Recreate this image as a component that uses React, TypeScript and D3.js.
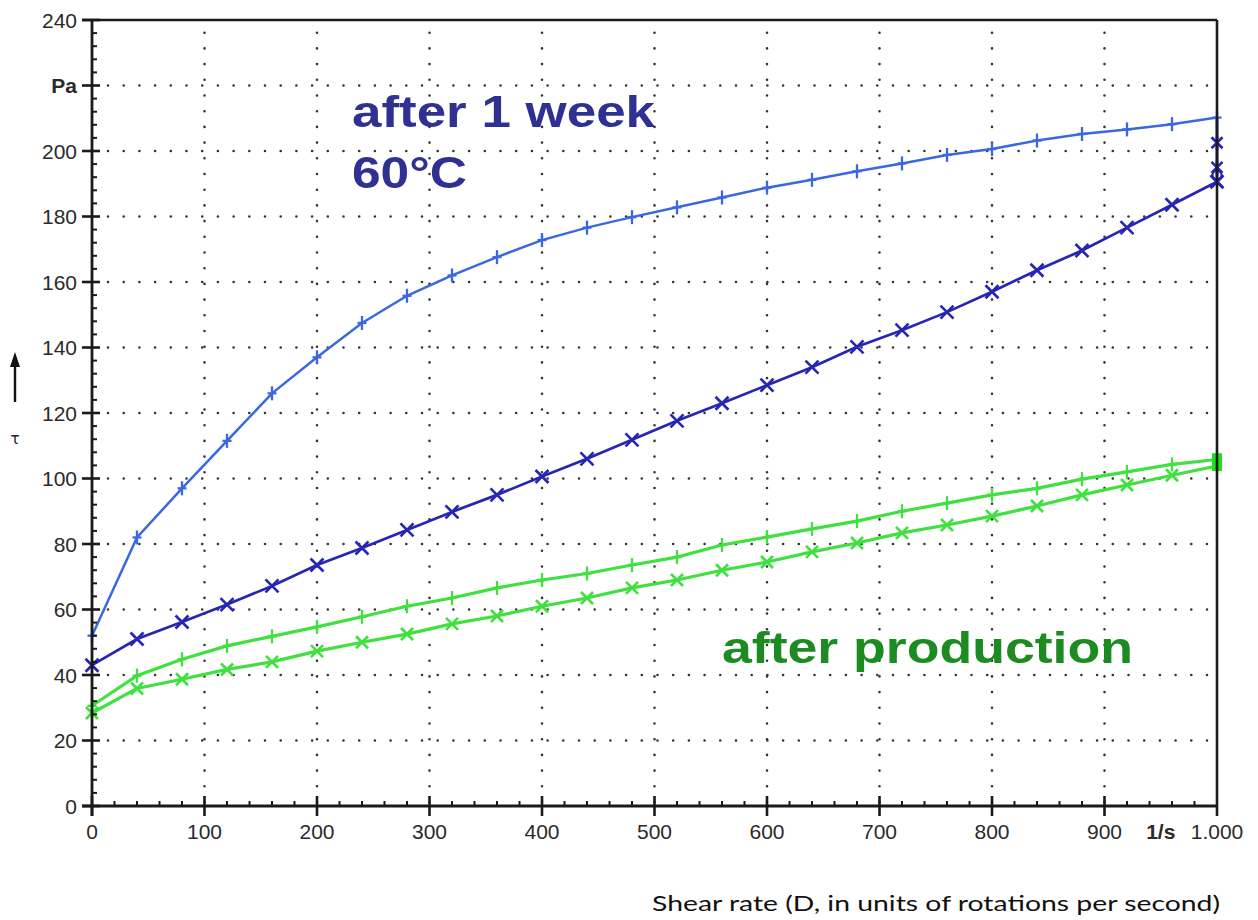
import React from "react";
import * as d3 from "d3";

// Shear rate steps (1/s) of the ramp measurements
const shearUp = [0, 40, 80, 120, 160, 200, 240, 280, 320, 360, 400, 440, 480, 520, 560, 600, 640, 680, 720, 760, 800, 840, 880, 920, 960, 1000];
const shearDown = [1000, 960, 920, 880, 840, 800, 760, 720, 680, 640, 600, 560, 520, 480, 440, 400, 360, 320, 280, 240, 200, 160, 120, 80, 40, 0];

// Shear stress τ (Pa) — after 1 week at 60°C
const weekUp = [52, 82, 97, 111.5, 126, 137, 147.5, 155.8, 162, 167.6, 172.8, 176.6, 179.8, 182.8, 185.8, 188.8, 191.2, 193.8, 196.2, 198.8, 200.6, 203.2, 205.2, 206.6, 208.2, 210.2];
const weekHold = [210.2, 202.5, 195, 192.6, 190.6];
const weekHoldMarks = ["none", "star", "star", "circle", "x"];
const weekDown = [190.6, 183.6, 176.6, 169.6, 163.6, 157, 150.8, 145.3, 140.2, 134, 128.5, 123, 117.6, 111.8, 106, 100.6, 95, 89.8, 84.3, 78.8, 73.6, 67.2, 61.5, 56.2, 51, 43];

// Shear stress τ (Pa) — after production
const prodUp = [30.6, 39.8, 44.8, 48.9, 51.8, 54.7, 57.8, 61, 63.5, 66.6, 69, 71, 73.6, 76, 79.7, 82.1, 84.6, 87, 90, 92.5, 95, 97, 99.8, 102, 104.3, 105.8];
const prodHold = [106.2, 105.4, 104.6, 103.8];
const prodDown = [103.8, 101, 98, 95, 91.6, 88.5, 85.8, 83.4, 80.3, 77.6, 74.5, 72, 69, 66.6, 63.5, 61, 58, 55.6, 52.5, 50, 47.3, 44, 41.7, 38.7, 35.9, 28.4];

const xTicks = [0, 100, 200, 300, 400, 500, 600, 700, 800, 900];
const xTickLabels = ["0", "100", "200", "300", "400", "500", "600", "700", "800", "900"];
const yTicks = [0, 20, 40, 60, 80, 100, 120, 140, 160, 180, 200, 220, 240];
const yTickLabels = ["0", "20", "40", "60", "80", "100", "120", "140", "160", "180", "200", "Pa", "240"];

const W = 1258;
const H = 920;
const left = 92;
const right = 1217;
const top = 20;
const bottom = 806;

const LIGHT_BLUE = "#3a68de";
const DARK_BLUE = "#2626b2";
const GREEN = "#3fe03f";
const AXIS = "#1a1a1a";
const LABEL = "#2a2a2a";
const FONT = "'Liberation Sans', Arial, sans-serif";

type Pt = [number, number];

function Plus({ x, y, color }: { x: number; y: number; color: string }) {
  return (
    <g stroke={color} strokeWidth={2.3}>
      <line x1={x} y1={y - 7} x2={x} y2={y + 7} />
      <line x1={x - 4.5} y1={y} x2={x + 4.5} y2={y} />
    </g>
  );
}

function Cross({ x, y, color, s = 6.5 }: { x: number; y: number; color: string; s?: number }) {
  return (
    <g stroke={color} strokeWidth={2.7}>
      <line x1={x - s} y1={y - s} x2={x + s} y2={y + s} />
      <line x1={x - s} y1={y + s} x2={x + s} y2={y - s} />
    </g>
  );
}

export default function App() {
  const x = d3.scaleLinear().domain([0, 1000]).range([left, right]);
  const y = d3.scaleLinear().domain([0, 240]).range([bottom, top]);
  const line = d3.line<Pt>().x((d) => x(d[0])).y((d) => y(d[1]));

  const wUp: Pt[] = shearUp.map((s, i) => [s, weekUp[i]]);
  const wHold: Pt[] = weekHold.map((v) => [1000, v]);
  const wDown: Pt[] = shearDown.map((s, i) => [s, weekDown[i]]);
  const pUp: Pt[] = shearUp.map((s, i) => [s, prodUp[i]]);
  const pHold: Pt[] = prodHold.map((v) => [1000, v]);
  const pDown: Pt[] = shearDown.map((s, i) => [s, prodDown[i]]);

  const yMinor = d3.range(0, 240, 4).filter((v) => v % 20 !== 0);
  const xMinor = d3.range(0, 1000, 20).filter((v) => v % 100 !== 0);
  const gridX = xTicks.filter((v) => v > 0);
  const gridY = yTicks.filter((v) => v > 0 && v < 240);

  return (
    <div style={{ position: "absolute", left: 0, top: 0 }}>
      <svg width={W} height={H} style={{ display: "block", background: "#fff" }}>
        {/* dotted grid */}
        <g stroke="#333" strokeWidth={2.6} strokeLinecap="round" strokeDasharray="0 15.7">
          {gridX.map((v) => (
            <line key={"gx" + v} x1={x(v)} y1={bottom - 4} x2={x(v)} y2={top + 4} />
          ))}
          {gridY.map((v) => (
            <line key={"gy" + v} x1={left + 16} y1={y(v)} x2={right - 4} y2={y(v)} />
          ))}
        </g>

        {/* annotation text */}
        <g fontFamily={FONT} fontWeight="bold" fontSize={45}>
          <text x={352} y={127} fill="#2e3192" textLength={303} lengthAdjust="spacingAndGlyphs">after 1 week</text>
          <text x={352} y={188} fill="#2e3192" textLength={115} lengthAdjust="spacingAndGlyphs">60°C</text>
          <text x={722} y={663} fill="#1c8c22" textLength={411} lengthAdjust="spacingAndGlyphs">after production</text>
        </g>

        {/* after production curves */}
        <g fill="none" stroke={GREEN} strokeWidth={3.2}>
          <path d={line(pUp) ?? ""} />
          <path d={line(pHold) ?? ""} />
          <path d={line(pDown) ?? ""} />
        </g>
        {pUp.map((d, i) => (
          <Plus key={"pu" + i} x={x(d[0])} y={y(d[1])} color={GREEN} />
        ))}
        {pDown.slice(1).map((d, i) => (
          <Cross key={"pd" + i} x={x(d[0])} y={y(d[1])} color={GREEN} s={6} />
        ))}
        {pHold.map((d, i) => (
          <rect key={"ph" + i} x={x(d[0]) - 5} y={y(d[1]) - 5} width={10} height={10} fill="#22dd22" />
        ))}

        {/* after 1 week at 60°C curves */}
        <path d={line(wUp) ?? ""} fill="none" stroke={LIGHT_BLUE} strokeWidth={2.5} />
        <path d={line(wHold) ?? ""} fill="none" stroke={DARK_BLUE} strokeWidth={2.8} />
        <path d={line(wDown) ?? ""} fill="none" stroke={DARK_BLUE} strokeWidth={2.7} />
        {wUp.map((d, i) => (
          <Plus key={"wu" + i} x={x(d[0])} y={y(d[1])} color={LIGHT_BLUE} />
        ))}
        {wDown.map((d, i) => (
          <Cross key={"wd" + i} x={x(d[0])} y={y(d[1])} color={DARK_BLUE} />
        ))}
        {wHold.map((d, i) => {
          const m = weekHoldMarks[i];
          const cx = x(d[0]);
          const cy = y(d[1]);
          if (m === "star")
            return (
              <g key={"wh" + i}>
                <Cross x={cx} y={cy} color={DARK_BLUE} s={5.5} />
                <line x1={cx} y1={cy - 7} x2={cx} y2={cy + 7} stroke={DARK_BLUE} strokeWidth={2.6} />
              </g>
            );
          if (m === "circle")
            return <circle key={"wh" + i} cx={cx} cy={cy} r={4.5} fill="none" stroke={DARK_BLUE} strokeWidth={2} />;
          if (m === "x") return <Cross key={"wh" + i} x={cx} y={cy} color={DARK_BLUE} s={5.5} />;
          return null;
        })}

        {/* frame and axes */}
        <g stroke={AXIS} fill="none">
          <line x1={left - 10} y1={top} x2={right} y2={top} strokeWidth={2.6} />
          <line x1={right} y1={top} x2={right} y2={bottom + 10} strokeWidth={2.6} />
          <line x1={left} y1={top} x2={left} y2={bottom + 10} strokeWidth={2.8} />
          <line x1={left - 10} y1={bottom} x2={right} y2={bottom} strokeWidth={2.8} />
          {yTicks.map((v) => (
            <line key={"yt" + v} x1={left - 10} y1={y(v)} x2={left + 8} y2={y(v)} strokeWidth={2.6} />
          ))}
          {yMinor.map((v) => (
            <line key={"ym" + v} x1={left} y1={y(v)} x2={left + 5} y2={y(v)} strokeWidth={2} />
          ))}
          {xTicks.map((v) => (
            <line key={"xt" + v} x1={x(v)} y1={bottom - 10} x2={x(v)} y2={bottom + 10} strokeWidth={2.6} />
          ))}
          {xMinor.map((v) => (
            <line key={"xm" + v} x1={x(v)} y1={bottom} x2={x(v)} y2={bottom - 5} strokeWidth={2} />
          ))}
        </g>

        {/* tick labels */}
        <g fontFamily={FONT} fontSize={21} fill={LABEL}>
          {yTicks.map((v, i) => (
            <text
              key={"yl" + v}
              x={left - 15}
              y={y(v)}
              dy="0.36em"
              textAnchor="end"
              fontWeight={yTickLabels[i] === "Pa" ? "bold" : "normal"}
            >
              {yTickLabels[i]}
            </text>
          ))}
          {xTicks.map((v, i) => (
            <text key={"xl" + v} x={x(v)} y={bottom + 33} textAnchor="middle">
              {xTickLabels[i]}
            </text>
          ))}
          <text x={x(950)} y={bottom + 33} textAnchor="middle" fontWeight="bold">1/s</text>
          <text x={x(1000)} y={bottom + 33} textAnchor="middle">1.000</text>
        </g>

        {/* τ axis title with arrow */}
        <g>
          <line x1={15} y1={402} x2={15} y2={364} stroke="#111" strokeWidth={2.4} />
          <path d="M10,367 L15,352 L20,367 Z" fill="#111" />
          <text x={15} y={444} fontFamily="'DejaVu Sans', sans-serif" fontSize={15} textAnchor="middle" fill="#222">τ</text>
        </g>

        {/* shear-rate caption */}
        <text x={652} y={911} fontFamily="Lato, 'Open Sans', sans-serif" fontSize={22} fill="#111" textLength={568} lengthAdjust="spacingAndGlyphs">
          Shear rate (D, in units of rotations per second)
        </text>
      </svg>
    </div>
  );
}
